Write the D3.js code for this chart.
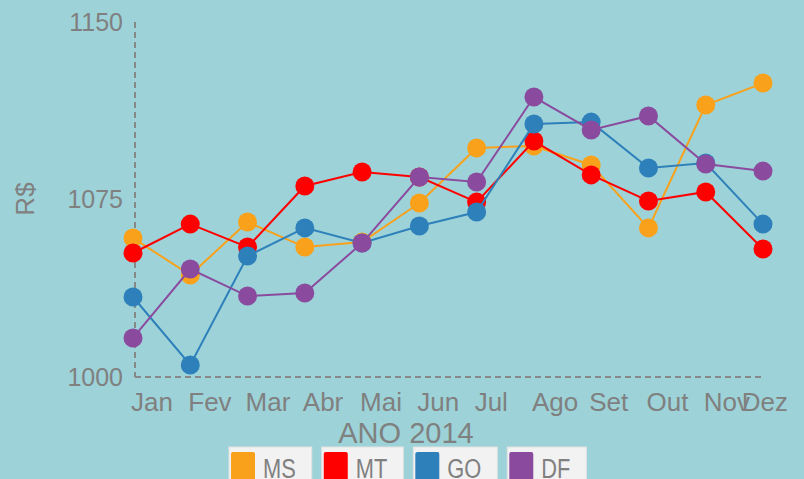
<!DOCTYPE html>
<html><head><meta charset="utf-8">
<script src="https://cdn.jsdelivr.net/npm/d3@7"></script>
<style>
html,body{margin:0;padding:0;background:#9dd3d8;}
svg{display:block;}
text{font-family:"Liberation Sans",Arial,sans-serif;fill:#808080;}
</style></head>
<body><svg id="c" width="804" height="479"></svg>
<script>
const months = ["Jan","Fev","Mar","Abr","Mai","Jun","Jul","Ago","Set","Out","Nov","Dez"];
const seriesNames = ["MS","MT","GO","DF"];
const seriesColors = ["#f9a11b","#ff0000","#2e80ba","#8a4b9f"];
const msValues = [1058.7,1043.1,1065.5,1054.9,1057.0,1073.5,1096.8,1097.6,1089.6,1063.0,1114.9,1124.2];
const mtValues = [1052.4,1064.6,1054.9,1080.7,1086.6,1084.5,1073.9,1099.7,1085.4,1074.4,1078.2,1054.1];
const goValues = [1033.8,1005.1,1051.1,1063.0,1056.6,1063.8,1069.7,1106.9,1107.7,1088.3,1090.4,1064.6];
const dfValues = [1016.5,1045.6,1034.2,1035.5,1056.6,1084.5,1082.4,1118.3,1104.4,1110.3,1090.0,1087.0];
const yTicks = [1000,1075,1150];
const yLabel = "R$";
const xLabel = "ANO 2014";

const allValues = [msValues, mtValues, goValues, dfValues];
const svg = d3.select("#c");

const x = d3.scalePoint().domain(months).range([133, 763]);
const y = d3.scaleLinear().domain([1000, 1150]).range([377, 22]);
const axisX = x(months[0]) + 2;

// dashed axes
svg.append("line").attr("x1", axisX).attr("x2", axisX).attr("y1", y(1150)).attr("y2", y(1000))
  .attr("stroke", "#888").attr("stroke-width", 2).attr("stroke-dasharray", "6,4");
svg.append("line").attr("x1", axisX).attr("x2", x(months[11]) + 2).attr("y1", y(1000)).attr("y2", y(1000))
  .attr("stroke", "#888").attr("stroke-width", 2).attr("stroke-dasharray", "6,4");

// y tick labels
svg.selectAll(".yt").data(yTicks).enter().append("text")
  .attr("x", 123).attr("y", d => y(d)).attr("dy", "0.35em")
  .attr("text-anchor", "end").style("font-size", "25px").text(d => d);

// y label
svg.append("text").attr("transform", `translate(34,199) rotate(-90)`)
  .attr("text-anchor", "middle").style("font-size", "26px").text(yLabel);

// x tick labels
const xt = svg.selectAll(".xt").data(months).enter().append("text")
  .attr("y", 411).style("font-size", "26px").text(d => d);
xt.each(function(d) {
  const w = this.getComputedTextLength();
  d3.select(this).attr("x", Math.min(x(d) - 2, 788 - w));
});

// x label
svg.append("text").attr("x", 406).attr("y", 443).attr("text-anchor", "middle")
  .style("font-size", "29px").text(xLabel);

// series
const line = d3.line().x((d, i) => x(months[i])).y(d => y(d));
allValues.forEach((vals, si) => {
  const g = svg.append("g");
  g.append("path").datum(vals).attr("d", line).attr("fill", "none")
    .attr("stroke", seriesColors[si]).attr("stroke-width", 2);
  g.selectAll("circle").data(vals).enter().append("circle")
    .attr("cx", (d, i) => x(months[i])).attr("cy", d => y(d)).attr("r", 9.5)
    .attr("fill", seriesColors[si]);
});

// legend
const lg = svg.append("g");
const sx = 0.78;
let lx = 229;
seriesNames.forEach((name, i) => {
  const g = lg.append("g");
  const rect = g.append("rect").attr("y", 447).attr("height", 40)
    .attr("fill", "#f2f2f2").attr("stroke", "#e2e2e2").attr("stroke-width", 1);
  const sw = g.append("rect").attr("y", 452).attr("width", 24).attr("height", 30).attr("rx", 2)
    .attr("fill", seriesColors[i]);
  const t = g.append("text").style("font-size", "28px").text(name);
  const tw = t.node().getComputedTextLength() * sx;
  const bw = 2 + 24 + 8 + tw + 16;
  rect.attr("x", lx).attr("width", bw);
  sw.attr("x", lx + 2);
  t.attr("transform", `translate(${lx + 34},478) scale(${sx},1)`);
  lx += bw + 10;
});
</script>
</body></html>
